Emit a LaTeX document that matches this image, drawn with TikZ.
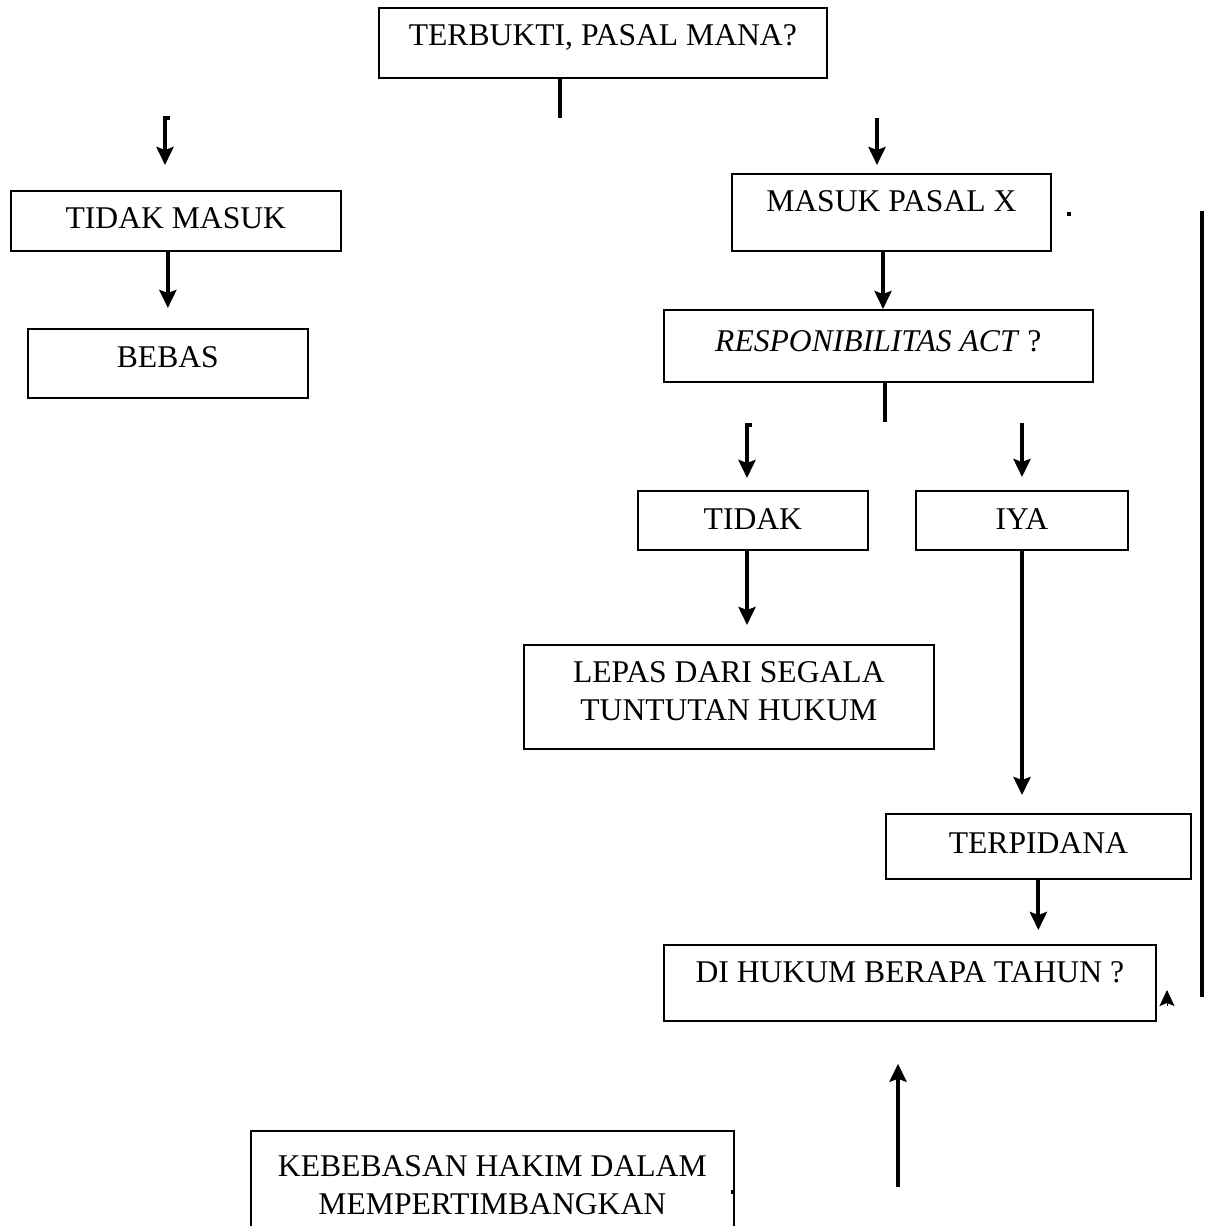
\documentclass[tikz,border=0pt]{standalone}
\usepackage{fontspec}
\setmainfont{Liberation Serif}
\usetikzlibrary{positioning,arrows.meta}

\begin{document}
\begin{tikzpicture}[x=0.02cm,y=-0.02cm,
    box/.style={draw,line width=1pt,rectangle,anchor=north west,inner ysep=0pt,
      font=\fontsize{18}{21.6}\selectfont,align=center},
    arr/.style={line width=2.3pt,-{Stealth[length=0.36cm,width=0.34cm,inset=0.06cm]}},
    bar/.style={line width=2.3pt}]
  \useasboundingbox (0,0) rectangle (1205,1226);
  \clip (0,0) rectangle (1205,1226);

  \node[box,minimum width=8.96cm,text height=0.76cm,text depth=0.64cm] (terbukti) at (378,7) {TERBUKTI, PASAL MANA?};
  \node[box,minimum width=6.6cm,text height=0.76cm,text depth=0.44cm] (tidakmasuk) at (10,190) {TIDAK MASUK};
  \node[box,minimum width=5.6cm,text height=0.78cm,text depth=0.6cm] (bebas) at (27,328) {BEBAS};
  \node[box,minimum width=6.38cm,text height=0.76cm,text depth=0.78cm] (masuk) at (731,173) {MASUK PASAL X};
  \node[box,minimum width=8.58cm,text height=0.84cm,text depth=0.6cm] (resp) at (663,309) {\textit{RESPONIBILITAS ACT} ?};
  \node[box,minimum width=4.6cm,text height=0.78cm,text depth=0.4cm] (tidak) at (637,490) {TIDAK};
  \node[box,minimum width=4.24cm,text height=0.78cm,text depth=0.4cm] (iya) at (915,490) {IYA};
  \node[box,minimum width=8.2cm,text height=1.52cm,text depth=0.56cm] (lepas) at (523,644) {LEPAS DARI SEGALA\\TUNTUTAN HUKUM};
  \node[box,minimum width=6.1cm,text height=0.8cm,text depth=0.5cm] (terpidana) at (885,813) {TERPIDANA};
  \node[box,minimum width=9.84cm,text height=0.76cm,text depth=0.76cm] (dihukum) at (663,944) {DI HUKUM BERAPA TAHUN ?};
  \node[box,minimum width=9.66cm,text height=1.68cm,text depth=0.92cm] (kebebasan) at (250,1130) {KEBEBASAN HAKIM DALAM\\MEMPERTIMBANGKAN};

  \coordinate (fork1) at (560,118);
  \coordinate (lbend) at (165,118);
  \coordinate (rbend) at (877,118);
  \coordinate (mx) at (883,0);
  \coordinate (fork2) at (885,422);
  \coordinate (tbend) at (747,425);
  \coordinate (ibend) at (1022,423);
  \coordinate (upfoot) at (898,1187);
  \coordinate (sidetop) at (1202,211);
  \coordinate (sidebot) at (1202,997);
  \coordinate (tick) at (1167,1006);

  \draw[bar] (terbukti.south -| fork1) -- (fork1);
  \draw[arr,shorten >=0.5cm] ([xshift=0.09cm]lbend) -- (lbend) -- (lbend |- tidakmasuk.north);
  \draw[arr,shorten >=0.16cm] (rbend) -- (rbend |- masuk.north);
  \draw[arr,shorten >=0.4cm] (bebas.north |- tidakmasuk.south) -- (bebas.north);
  \draw[arr] (masuk.south -| mx) -- (resp.north -| mx);
  \draw[bar] (resp.south -| fork2) -- (fork2);
  \draw[arr,shorten >=0.24cm] ([xshift=0.09cm]tbend) -- (tbend) -- (tbend |- tidak.north);
  \draw[arr,shorten >=0.26cm] (ibend) -- (ibend |- iya.north);
  \draw[arr,shorten >=0.38cm] (tidak.south -| tbend) -- (lepas.north -| tbend);
  \draw[arr,shorten >=0.36cm] (iya.south -| ibend) -- (terpidana.north -| ibend);
  \draw[arr,shorten >=0.28cm] (terpidana.south) -- (terpidana.south |- dihukum.north);
  \draw[arr,shorten >=0.84cm] (upfoot) -- (upfoot |- dihukum.south);
  \draw[bar,line width=2.5pt] (sidetop) -- (sidebot);
  % stray marks
  \draw[line width=0.4pt,-{Stealth[length=0.32cm,width=0.3cm,inset=0.06cm]}] (tick) -- ++(0,-16);
  \fill (1067,212) rectangle (1071,216);
  \fill (731,1190) rectangle (735,1194);
\end{tikzpicture}
\end{document}
